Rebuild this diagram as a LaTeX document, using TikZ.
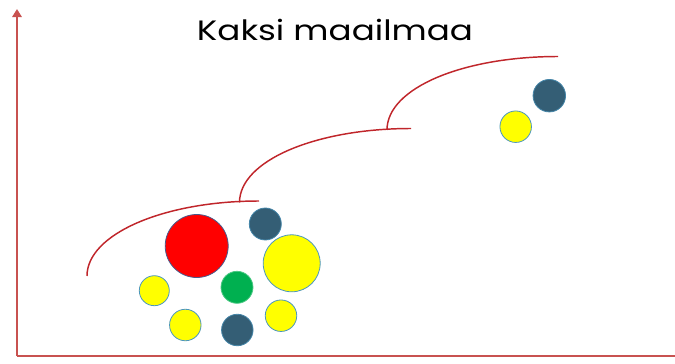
\documentclass[tikz,border=0pt]{standalone}
\usepackage{fontspec}
\setmainfont{Poppins}
\usetikzlibrary{arrows.meta}
\definecolor{axisred}{RGB}{200,82,80}
\definecolor{curvered}{RGB}{192,38,43}
\definecolor{ballyellow}{RGB}{255,255,0}
\definecolor{ballred}{RGB}{255,0,0}
\definecolor{ballnavy}{RGB}{52,94,117}
\definecolor{ballgreen}{RGB}{0,176,80}
\definecolor{rimblue}{RGB}{75,150,190}
\definecolor{rimdark}{RGB}{70,90,140}
\tikzset{
  ball/.style={circle, inner sep=0pt, line width=0.6pt},
  yball/.style={ball, fill=ballyellow, draw=rimblue},
  rball/.style={ball, fill=ballred, draw=rimdark},
  nball/.style={ball, fill=ballnavy, draw=rimblue!70!ballnavy},
  gball/.style={ball, fill=ballgreen, draw=ballgreen!70!white},
  axis/.style={draw=axisred, line width=1.5pt},
  worldline/.style={draw=curvered, line width=1.1pt}
}
\begin{document}
\begin{tikzpicture}[x=0.75pt,y=-0.75pt]
    \useasboundingbox (0,0) rectangle (675,364);
    %% akselit
    \coordinate (O) at (17,356);
    \coordinate (Ytop) at (17,9);
    \coordinate (Xend) at (675,356);
    \draw[axis] (Xend) -- (O);
    \draw[axis, -{Triangle[width=7pt,length=6pt]}] (O) -- (Ytop);

    \node[font=\fontsize{21}{25}\selectfont, xscale=1.22, transform shape] (title) at (335,30) {Kaksi maailmaa};

    %% kolme kaarta, jokainen alkaa edellisen lopusta
    \foreach \n/\ax/\ay/\bx/\by in
    {1/87/276/259/201,
        2/239.5/202.5/411/128.5,
        3/387/130/558/56.5}
    {
        \coordinate (arcL\n) at (\ax,\ay);
        \coordinate (arcR\n) at (\bx,\by);
        \draw[worldline] (arcL\n) .. controls +(0,-42) and +(-95,0) .. (arcR\n);
    };

    %% pallot
    \foreach \n/\x/\y/\d/\s in
    {red/196.7/246/63/rball,
        navyTop/265.3/224/32/nball,
        yellowBig/291.7/263.3/57/yball,
        green/237/287.3/32/gball,
        yellowLeft/154.3/290.7/30/yball,
        yellowLow/185.3/325/31.5/yball,
        navyLow/237.3/330/31.5/nball,
        yellowRight/281/315.7/31.5/yball,
        navyFar/549.3/95.7/32.5/nball,
        yellowFar/515.7/126.7/31.5/yball}
    {
        \node[\s, minimum size=\d*0.75pt] (\n) at (\x,\y) {};
    };
\end{tikzpicture}
\end{document}
